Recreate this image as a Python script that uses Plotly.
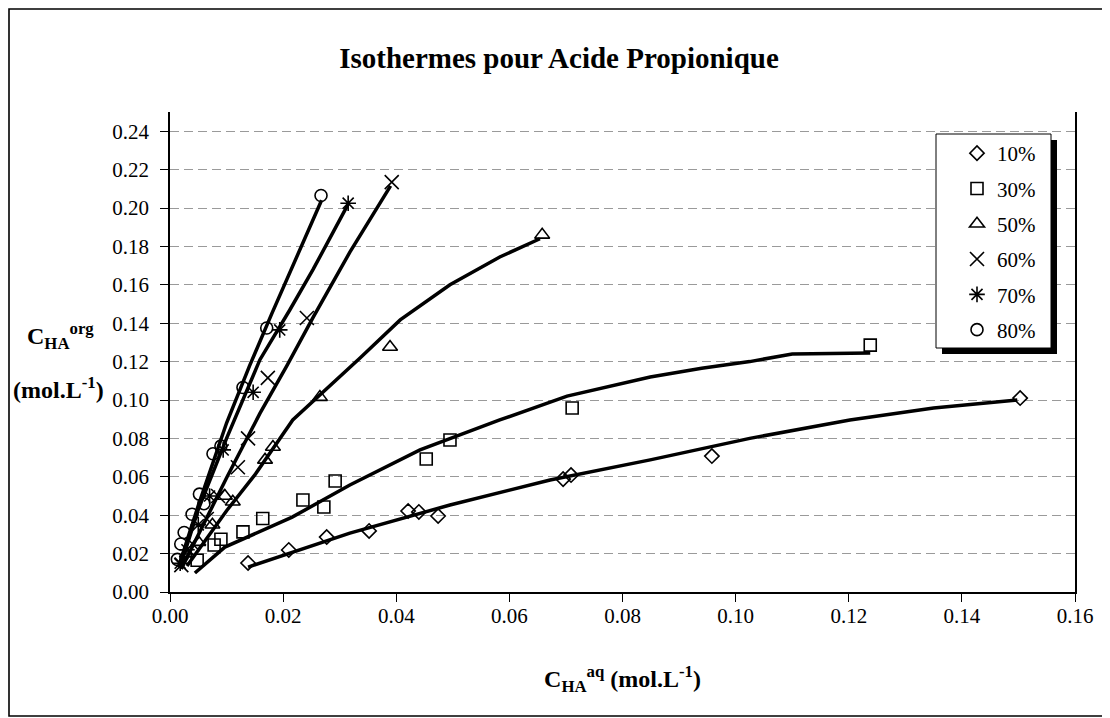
import plotly.graph_objects as go

# ---- data ----
labels = ["10%", "30%", "50%", "60%", "70%", "80%"]

x10 = [0.0138, 0.0210, 0.0277, 0.0352, 0.0421, 0.0440, 0.0474, 0.0695, 0.0709, 0.0958, 0.1503]
y10 = [0.0151, 0.0219, 0.0286, 0.0318, 0.0422, 0.0417, 0.0396, 0.0588, 0.0609, 0.0708, 0.1010]

x30 = [0.0048, 0.0078, 0.0090, 0.0129, 0.0164, 0.0235, 0.0272, 0.0292, 0.0453, 0.0495, 0.0711, 0.1238]
y30 = [0.0165, 0.0245, 0.0275, 0.0313, 0.0383, 0.0479, 0.0443, 0.0578, 0.0693, 0.0792, 0.0958, 0.1286]

x50 = [0.0030, 0.0050, 0.0075, 0.0097, 0.0111, 0.0168, 0.0182, 0.0265, 0.0389, 0.0658]
y50 = [0.0200, 0.0260, 0.0350, 0.0500, 0.0470, 0.0688, 0.0755, 0.1015, 0.1276, 0.1860]

x60 = [0.0020, 0.0040, 0.0065, 0.0085, 0.0120, 0.0138, 0.0173, 0.0242, 0.0392]
y60 = [0.0140, 0.0250, 0.0380, 0.0500, 0.0650, 0.0800, 0.1115, 0.1427, 0.2135]

x70 = [0.0018, 0.0030, 0.0050, 0.0070, 0.0094, 0.0147, 0.0194, 0.0315]
y70 = [0.0150, 0.0220, 0.0350, 0.0500, 0.0740, 0.1040, 0.1365, 0.2025]

x80 = [0.0013, 0.0019, 0.0025, 0.0039, 0.0052, 0.0060, 0.0076, 0.0090, 0.0129, 0.0171, 0.0267]
y80 = [0.0170, 0.0250, 0.0310, 0.0405, 0.0510, 0.0460, 0.0720, 0.0760, 0.1065, 0.1375, 0.2065]

# fitted isotherm curves
fx10 = [0.0138, 0.0210, 0.0318, 0.0495, 0.0672, 0.0849, 0.1025, 0.1202, 0.1350, 0.1498]
fy10 = [0.0130, 0.0200, 0.0307, 0.0453, 0.0583, 0.0688, 0.0800, 0.0896, 0.0958, 0.1000]

fx30 = [0.0044, 0.0097, 0.0216, 0.0318, 0.0442, 0.0583, 0.0702, 0.0849, 0.0940, 0.1025, 0.1100, 0.1238]
fy30 = [0.0099, 0.0234, 0.0390, 0.0557, 0.0740, 0.0896, 0.1020, 0.1120, 0.1165, 0.1200, 0.1240, 0.1245]

fx50 = [0.0030, 0.0101, 0.0150, 0.0217, 0.0336, 0.0407, 0.0495, 0.0583, 0.0654]
fy50 = [0.0135, 0.0427, 0.0610, 0.0896, 0.1219, 0.1417, 0.1600, 0.1745, 0.1840]

fx60 = [0.0020, 0.0101, 0.0159, 0.0207, 0.0253, 0.0318, 0.0390]
fy60 = [0.0120, 0.0600, 0.0930, 0.1180, 0.1430, 0.1770, 0.2115]

fx70 = [0.0018, 0.0050, 0.0100, 0.0159, 0.0212, 0.0253, 0.0315]
fy70 = [0.0130, 0.0430, 0.0800, 0.1210, 0.1470, 0.1680, 0.2020]

fx80 = [0.0015, 0.0050, 0.0100, 0.0141, 0.0180, 0.0224, 0.0268]
fy80 = [0.0130, 0.0450, 0.0880, 0.1180, 0.1450, 0.1740, 0.2040]

x_ticks = [0.00, 0.02, 0.04, 0.06, 0.08, 0.10, 0.12, 0.14, 0.16]
y_ticks = [0.00, 0.02, 0.04, 0.06, 0.08, 0.10, 0.12, 0.14, 0.16, 0.18, 0.20, 0.22, 0.24]

points = [(x10, y10), (x30, y30), (x50, y50), (x60, y60), (x70, y70), (x80, y80)]
fits = [(fx10, fy10), (fx30, fy30), (fx50, fy50), (fx60, fy60), (fx70, fy70), (fx80, fy80)]
symbols = ["diamond-open", "square-open", "triangle-up-open", "x-thin-open", "asterisk-open", "circle-open"]
sizes = [11, 12, 13, 14, 13, 12]

FONT = "Liberation Serif"

# The page body has an 8px margin; figure is sized to fit the window.
OFF = 8
W, H = 1110 - OFF, 718 - OFF
# plot-area geometry in page pixels
L, R, T, B = 170, 1075, 112, 592
PW, PH = R - L, B - T


def px(xp):  # page x -> paper
    return (xp - L) / PW


def py(yp):  # page y -> paper
    return (B - yp) / PH


fig = go.Figure()

for (fx, fy) in fits:
    fig.add_trace(go.Scatter(x=fx, y=fy, mode="lines", showlegend=False,
                             line=dict(color="black", width=3.5),
                             hoverinfo="skip"))

for i, (xs, ys) in enumerate(points):
    fig.add_trace(go.Scatter(x=xs, y=ys, mode="markers", name=labels[i],
                             legendgroup=labels[i],
                             marker=dict(symbol=symbols[i], size=sizes[i], color="black",
                                         line=dict(color="black", width=1.6))))

shapes = [
    # outer chart border
    dict(type="rect", xref="paper", yref="paper", x0=px(9), x1=px(1103), y0=py(716), y1=py(9),
         line=dict(color="black", width=1.6), layer="above"),
    # legend shadow
    dict(type="rect", xref="paper", yref="paper", x0=px(942), x1=px(1057), y0=py(354), y1=py(140),
         fillcolor="black", line=dict(width=0), layer="above"),
    # legend box
    dict(type="rect", xref="paper", yref="paper", x0=px(936), x1=px(1051), y0=py(348), y1=py(134),
         fillcolor="white", line=dict(color="black", width=1), layer="above"),
]

annotations = [
    dict(text="<b>C<sub>HA</sub><sup>org</sup></b>", xref="paper", yref="paper",
         x=px(60), y=py(336), showarrow=False, xanchor="center", yanchor="middle",
         font=dict(family=FONT, size=24, color="black")),
    dict(text="<b>(mol.L<sup>-1</sup>)</b>", xref="paper", yref="paper",
         x=px(58), y=py(388), showarrow=False, xanchor="center", yanchor="middle",
         font=dict(family=FONT, size=24, color="black")),
]

fig.update_layout(
    width=W, height=H,
    margin=dict(l=L - OFF, r=W - (R - OFF), t=T - OFF, b=H - (B - OFF)),
    paper_bgcolor="white", plot_bgcolor="white",
    title=dict(text="<b>Isothermes pour Acide Propionique</b>", x=0.5, xanchor="center",
               y=1 - (58 - OFF) / H, yanchor="middle",
               font=dict(family=FONT, size=29, color="black")),
    font=dict(family=FONT, size=21, color="black"),
    shapes=shapes,
    annotations=annotations,
    legend=dict(x=px(957), xanchor="left", y=py(133), yanchor="top",
                bgcolor="rgba(0,0,0,0)", borderwidth=0,
                font=dict(family=FONT, size=21, color="black"),
                traceorder="grouped", tracegroupgap=5, itemwidth=30),
    xaxis=dict(range=[0, 0.16], tickvals=x_ticks, tickformat=".2f",
               showgrid=False, zeroline=False,
               showline=True, linecolor="black", linewidth=1.5,
               ticks="outside", ticklen=8, tickcolor="black", tickwidth=1.2,
               ticklabelstandoff=-4,
               tickfont=dict(family=FONT, size=21),
               title=dict(text="<b>C<sub>HA</sub><sup>aq</sup> (mol.L<sup>-1</sup>)</b>",
                          font=dict(family=FONT, size=24), standoff=43)),
    yaxis=dict(range=[0, 0.25], tickvals=y_ticks, tickformat=".2f",
               showgrid=True, gridcolor="#9a9a9a", gridwidth=1, griddash="9px,5px",
               zeroline=False,
               showline=True, linecolor="black", linewidth=1.5, mirror=True,
               ticks="outside", ticklen=8, tickcolor="black", tickwidth=1.2,
               ticklabelstandoff=7,
               tickfont=dict(family=FONT, size=21)),
)

fig.write_html("out.html")
